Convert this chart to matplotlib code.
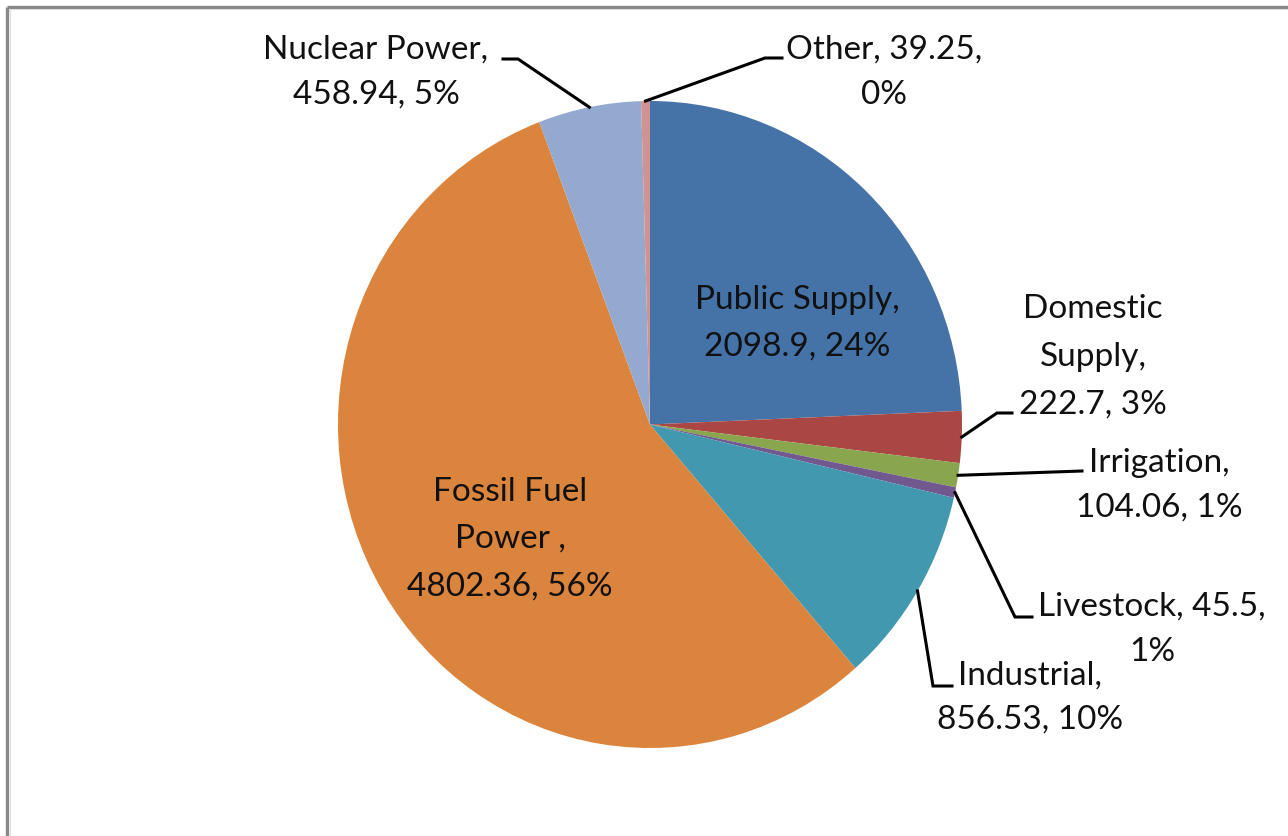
import matplotlib
matplotlib.use("Agg")
import matplotlib.pyplot as plt
import numpy as np

# ---- data ----
categories = ["Public Supply", "Domestic Supply", "Irrigation", "Livestock",
              "Industrial", "Fossil Fuel Power", "Nuclear Power", "Other"]
values = [2098.9, 222.7, 104.06, 45.5, 856.53, 4802.36, 458.94, 39.25]
colors = ["#4572A7", "#AA4643", "#89A54E", "#71588F",
          "#4198AF", "#DB843D", "#93A9CF", "#D19392"]

# label text lines (as shown on the chart)
label_lines = {
    "Public Supply": ["Public Supply,", "2098.9, 24%"],
    "Domestic Supply": ["Domestic", "Supply,", "222.7, 3%"],
    "Irrigation": ["Irrigation,", "104.06, 1%"],
    "Livestock": ["Livestock, 45.5,", "1%"],
    "Industrial": ["Industrial,", "856.53, 10%"],
    "Fossil Fuel Power": ["Fossil Fuel", "Power ,", "4802.36, 56%"],
    "Nuclear Power": ["Nuclear Power,", "458.94, 5%"],
    "Other": ["Other, 39.25,", "0%"],
}

W, H = 1288, 836
FONT = "Lato"
FS = 24

fig = plt.figure(figsize=(W / 100, H / 100), dpi=100)
fig.patch.set_facecolor("white")

# pie axes placed over the pie's bounding box (pixels)
pl, pr, pt, pb = 338, 962, 101, 748
ax = fig.add_axes([pl / W, (H - pb) / H, (pr - pl) / W, (pb - pt) / H])
wedges, _ = ax.pie(values, colors=colors, startangle=90, counterclock=False,
                   radius=1.0, wedgeprops=dict(linewidth=0))
ax.set_aspect("auto")
ax.set_xlim(-1, 1)
ax.set_ylim(-1, 1)
ax.axis("off")

# overlay axes in pixel coordinates
ov = fig.add_axes([0, 0, 1, 1], facecolor="none")
ov.set_xlim(0, W)
ov.set_ylim(H, 0)
ov.axis("off")

# frame (top and left grey border)
ov.plot([7.5, W], [6.5, 6.5], color="#888888", lw=2.4, solid_capstyle="butt")
ov.plot([7.5, 7.5], [6.5, H], color="#888888", lw=2.4, solid_capstyle="butt")
ov.plot([9.5, W], [8.6, 8.6], color="#dddddd", lw=0.8)
ov.plot([9.6, 9.6], [8.6, H], color="#dddddd", lw=0.8)


def to_px(x, y):
    d = ax.transData.transform((x, y))
    return d[0], H - d[1]


def anchor(w):
    mid = np.deg2rad((w.theta1 + w.theta2) / 2.0)
    return to_px(np.cos(mid), np.sin(mid))


# label layout: (center x, list of line centre y), leader elbow points
layout = {
    "Public Supply": (797, [300, 347], None),
    "Fossil Fuel Power": (510, [492, 539, 587], None),
    "Nuclear Power": (376, [50, 95], [(518, 59), (503, 59)]),
    "Other": (884, [50, 95], [(765, 58), (782, 58)]),
    "Domestic Supply": (1093, [309, 357, 405], [(997, 413), (1012, 413)]),
    "Irrigation": (1159, [463, 508], [(1082, 471)]),
    "Livestock": (1152, [607, 652], [(1015, 617), (1032, 617)]),
    "Industrial": (1030, [676, 720], [(933, 686), (952, 686)]),
}

for w, name in zip(wedges, categories):
    cx, ys, elbows = layout[name]
    for line, y in zip(label_lines[name], ys):
        ov.text(cx, y, line, ha="center", va="center", fontsize=FS,
                family=FONT, color="#111111")
    if elbows:
        ax0, ay0 = anchor(w)
        xs = [ax0] + [p[0] for p in elbows]
        yy = [ay0] + [p[1] for p in elbows]
        ov.plot(xs, yy, color="black", lw=2.2, solid_joinstyle="miter")

fig.savefig("out.png", dpi=100, facecolor="white")
